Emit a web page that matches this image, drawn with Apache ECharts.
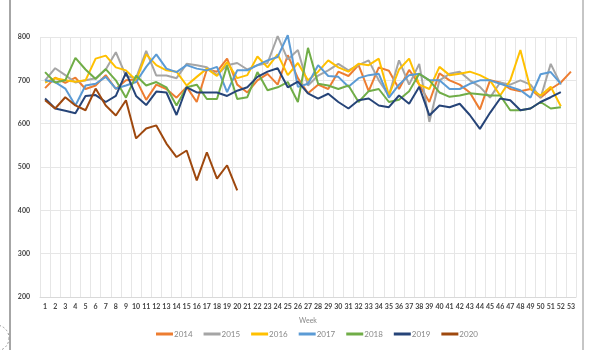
<!DOCTYPE html>
<html>
<head>
<meta charset="utf-8">
<script src="https://cdn.jsdelivr.net/npm/echarts@6/dist/echarts.min.js"></script>
<style>
  html, body { margin: 0; padding: 0; background: #fff; }
  #chart { width: 600px; height: 350px; }
</style>
</head>
<body>
<div id="chart"></div>
<script>
const weeks = Array.from({ length: 53 }, (_, i) => String(i + 1))
const yTicks = [200, 300, 400, 500, 600, 700, 800]

const y2014 = [682, 706, 694, 706, 680, 688, 712, 680, 700, 702,
  655, 690, 680, 660, 685, 650, 725, 720, 750, 690,
  672, 700, 715, 690, 758, 705, 670, 690, 680, 720,
  710, 735, 675, 730, 722, 680, 724, 690, 650, 716,
  700, 690, 672, 633, 700, 695, 680, 675, 680, 660,
  680, 695, 720]
const y2015 = [700, 728, 712, 695, 700, 705, 725, 765, 710, 705,
  768, 711, 711, 705, 738, 735, 730, 712, 735, 740,
  725, 735, 740, 802, 748, 770, 688, 711, 723, 738,
  723, 735, 746, 700, 665, 746, 690, 738, 604, 700,
  715, 720, 700, 685, 660, 695, 690, 700, 690, 660,
  738, 690]
const y2016 = [695, 705, 700, 697, 700, 750, 757, 730, 723, 700,
  760, 735, 723, 720, 688, 708, 727, 710, 742, 705,
  712, 755, 730, 760, 712, 740, 700, 720, 746, 730,
  720, 738, 735, 750, 665, 725, 750, 690, 680, 731,
  712, 715, 720, 712, 700, 665, 700, 770, 680, 665,
  685, 640]
const y2017 = [700, 696, 681, 642, 688, 692, 708, 681, 688, 696,
  731, 760, 727, 719, 735, 727, 723, 731, 673, 723,
  723, 735, 746, 754, 804, 685, 692, 735, 710, 708,
  685, 705, 712, 715, 660, 690, 712, 715, 700, 700,
  680, 680, 692, 700, 700, 692, 685, 677, 660, 714,
  719, 692]
const y2018 = [719, 695, 700, 752, 725, 703, 726, 700, 660, 711,
  688, 696, 684, 642, 684, 690, 657, 657, 734, 657,
  661, 719, 677, 684, 696, 650, 775, 692, 688, 680,
  688, 650, 675, 680, 650, 655, 675, 715, 700, 672,
  662, 665, 670, 668, 665, 665, 631, 631, 635, 650,
  635, 638]
const y2019 = [658, 635, 630, 624, 664, 666, 650, 664, 718, 664,
  643, 674, 672, 620, 684, 672, 672, 672, 664, 676,
  684, 708, 720, 728, 684, 697, 670, 658, 669, 650,
  635, 654, 658, 642, 638, 665, 646, 685, 619, 642,
  638, 646, 620, 588, 625, 658, 654, 631, 635, 650,
  661, 673]
const y2020 = [654, 635, 661, 642, 631, 681, 642, 619, 654, 566,
  589, 596, 554, 523, 538, 469, 534, 473, 504, 446]

const seriesDefs = [
  { name: '2014', data: y2014, color: '#ed7d31' },
  { name: '2015', data: y2015, color: '#a5a5a5' },
  { name: '2016', data: y2016, color: '#ffc000' },
  { name: '2017', data: y2017, color: '#5b9bd5' },
  { name: '2018', data: y2018, color: '#70ad47' },
  { name: '2019', data: y2019, color: '#264478' },
  { name: '2020', data: y2020, color: '#9e480e' },
]

const chart = echarts.init(document.getElementById('chart'))

chart.setOption({
  animation: false,
  textStyle: { fontFamily: 'Lato, "Open Sans", sans-serif' },
  color: seriesDefs.map((s) => s.color),
  grid: { left: 40, right: 24, top: 37, bottom: 53 },
  legend: {
    bottom: 7,
    left: 151,
    itemWidth: 17,
    itemHeight: 3,
    itemGap: 11,
    icon: 'rect',
    textStyle: { color: '#888', fontSize: 8, padding: [0, 0, 0, -4] },
    data: seriesDefs.map((s) => s.name),
  },
  xAxis: {
    type: 'category',
    data: weeks,
    boundaryGap: true,
    name: 'Week',
    nameLocation: 'middle',
    nameGap: 20,
    nameTextStyle: { color: '#888', fontSize: 7 },
    axisLine: { lineStyle: { color: '#d9d9d9' } },
    axisTick: { show: false },
    axisLabel: { color: '#444', fontSize: 7, fontWeight: 'bold', interval: 0, margin: 6 },
    splitLine: { show: true, lineStyle: { color: '#e6e6e6' } },
  },
  yAxis: {
    type: 'value',
    min: yTicks[0],
    max: yTicks[yTicks.length - 1],
    interval: 100,
    axisLine: { show: false },
    axisTick: { show: false },
    axisLabel: { color: '#444', fontSize: 7, fontWeight: 'bold', margin: 10 },
    splitLine: { lineStyle: { color: '#e6e6e6' } },
  },
  series: seriesDefs.map((s) => ({
    name: s.name,
    type: 'line',
    data: s.data,
    symbol: 'none',
    clip: false,
    lineStyle: { width: 2, color: s.color },
    itemStyle: { color: s.color },
  })),
  graphic: [
    { type: 'line', shape: { x1: 10, y1: 0, x2: 10, y2: 350 }, style: { stroke: '#a6a6a6', lineWidth: 2 } },
    { type: 'line', shape: { x1: 583, y1: 0, x2: 583, y2: 350 }, style: { stroke: '#8c8c8c', lineWidth: 1 } },
    { type: 'circle', shape: { cx: -4, cy: 338, r: 13 }, style: { fill: 'none', stroke: '#999', lineWidth: 1, lineDash: [2, 2] } },
  ],
})
</script>
</body>
</html>
